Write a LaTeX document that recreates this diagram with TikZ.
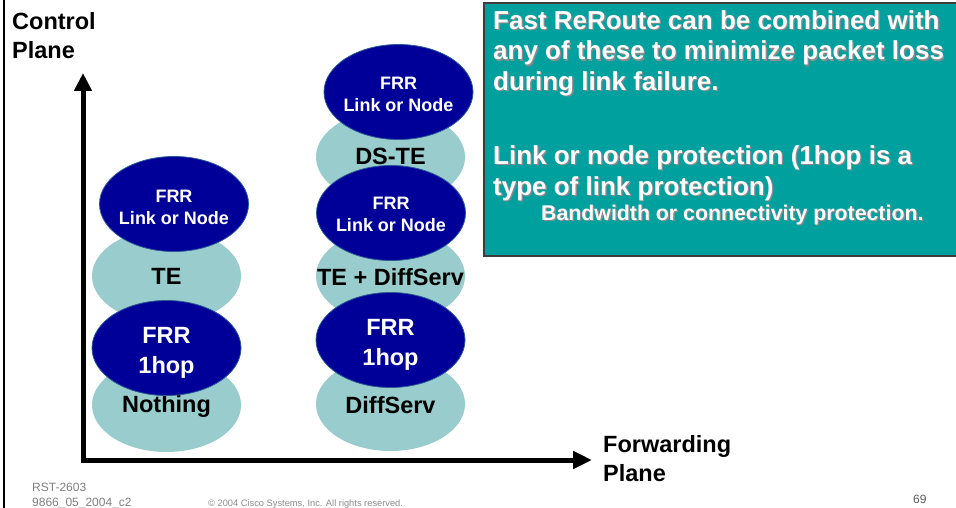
\documentclass[tikz,border=0pt]{standalone}
\usepackage{fontspec}
\setmainfont{Liberation Sans}
\usetikzlibrary{shapes.geometric,arrows.meta}
\definecolor{lteal}{RGB}{153,204,204}
\definecolor{dblue}{RGB}{0,0,153}
\definecolor{dedge}{RGB}{40,90,150}
\definecolor{boxteal}{RGB}{0,160,158}
\definecolor{boxedge}{RGB}{60,60,60}
\definecolor{foot}{RGB}{128,128,128}
\begin{document}
\begin{tikzpicture}[x=1pt,y=-1pt,
  light/.style={ellipse, fill=lteal, minimum width=149pt, minimum height=94pt, inner sep=0pt},
  dark/.style={ellipse, fill=dblue, draw=dedge, line width=0.8pt,
    minimum width=149pt, minimum height=95pt, inner sep=0pt},
  lighttxt/.style={inner sep=0pt, align=center, font=\fontsize{23.5}{29}\selectfont\bfseries},
  bigtxt/.style={inner sep=0pt, align=center, text=white, font=\fontsize{23.5}{30}\selectfont\bfseries},
  smalltxt/.style={inner sep=0pt, align=center, text=white, font=\fontsize{18}{22}\selectfont\bfseries},
  lbl/.style={inner sep=0pt, anchor=base west, font=\fontsize{23.5}{29}\selectfont\bfseries},
  boxline/.style={inner sep=0pt, anchor=base west, text=white, font=\fontsize{26}{30}\selectfont\bfseries},
  boxsub/.style={inner sep=0pt, anchor=base west, text=white, font=\fontsize{21.3}{26}\selectfont\bfseries},
  shadowtxt/.style={text=black!45},
  axis/.style={line width=5pt, line join=miter,
    {Triangle[length=18pt,width=17pt]}-{Triangle[length=19pt,width=17pt]}},
  footsmall/.style={inner sep=0pt, anchor=base west, text=foot, font=\fontsize{12}{14}\selectfont}
]
\useasboundingbox (0,0) rectangle (956,508);
\fill[white] (0,0) rectangle (956,508);
% left border
\draw[line width=1.8pt] (4,0) -- (4,508);

% teal box
\draw[fill=boxteal, draw=boxedge, line width=1.2pt] (484,3) rectangle (960,256);
\foreach \t/\y [count=\i] in {Fast ReRoute can be combined with/29.5,
    any of these to minimize packet loss/60,
    during link failure./90.5,
    Link or node protection (1hop is a/164.5,
    type of link protection)/195}{
  \node[boxline, shadowtxt] at (494.3,\y+1.3) {\t};
  \node[boxline] (bt\i) at (493,\y) {\t};
}
\node[boxsub, shadowtxt] at (542.3,221.8) {Bandwidth or connectivity protection.};
\node[boxsub] (bt6) at (541,220.5) {Bandwidth or connectivity protection.};

% axes
\coordinate (O) at (83,460);
\coordinate (Ytip) at (83,73);
\coordinate (Xtip) at (592,460);
\draw[axis] (Ytip) -- (O) -- (Xtip);

% axis labels
\node[lbl] (cp1) at (12,30) {Control};
\node[lbl] (cp2) at (12,59) {Plane};
\node[lbl] (fp1) at (603,452) {Forwarding};
\node[lbl] (fp2) at (603,481) {Plane};

% light ellipses
\node[light] (te)   at (166.5,276) {};
\node[light] (none) at (166.5,405) {};
\node[light] (ds)   at (390.5,404) {};
\node[light] (teds) at (390.5,276) {};
\node[light] (dste) at (390.5,157) {};
\node[lighttxt] (tet)   at (166.5,276) {TE};
\node[lighttxt] (nonet) at (166.5,406) {Nothing};
\node[lighttxt] (dst)   at (390.5,405) {DiffServ};
\node[lighttxt] (tedst) at (390.5,277) {TE + DiffServ};
\node[lighttxt] (dstet) at (390.5,156.5) {DS-TE};

% dark ellipses
\node[dark] (f1l) at (166.5,348) {};
\node[dark] (fnl) at (174,204)   {};
\node[dark] (f1r) at (390.5,340) {};
\node[dark] (fnm) at (391,213)   {};
\node[dark] (fnt) at (398.5,92)  {};
\node[bigtxt]   (f1lt) at (166.5,353) {FRR\\1hop};
\node[bigtxt]   (f1rt) at (390.5,345) {FRR\\1hop};
\node[smalltxt] (fnlt) at (174,207)   {FRR\\Link or Node};
\node[smalltxt] (fnmt) at (391,214)   {FRR\\Link or Node};
\node[smalltxt] (fntt) at (398.5,94)  {FRR\\Link or Node};

% footer
\node[footsmall] (f1) at (32,491.5) {RST-2603};
\node[footsmall] (f2) at (32,506) {9866\_05\_2004\_c2};
\node[footsmall, text=foot!90, font=\fontsize{9.3}{11}\selectfont] (f3) at (208,506) {© 2004 Cisco Systems, Inc. All rights reserved.};
\node[footsmall, text=black!65] (f4) at (913,503.5) {69};
\end{tikzpicture}
\end{document}
